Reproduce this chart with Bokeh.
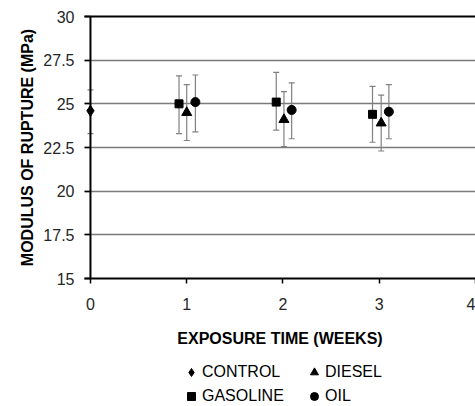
from bokeh.plotting import figure
from bokeh.layouts import column
from bokeh.models import (Range1d, FixedTicker, LinearAxis, Whisker, TeeHead, Span,
                          ColumnDataSource, Legend, LegendItem, NumeralTickFormatter)
from bokeh.embed import file_html
from bokeh.resources import INLINE

# ---- data ----
x_ticks = [0, 1, 2, 3, 4]
y_ticks = [15, 17.5, 20, 22.5, 25, 27.5, 30]

control_x = [0.0]
control_y = [24.6]
control_lo = [23.3]
control_hi = [25.8]

gasoline_x = [0.92, 1.93, 2.93]
gasoline_y = [25.0, 25.1, 24.4]
gasoline_lo = [23.3, 23.5, 22.8]
gasoline_hi = [26.6, 26.8, 26.0]

diesel_x = [1.0, 2.01, 3.02]
diesel_y = [24.5, 24.1, 23.9]
diesel_lo = [22.9, 22.55, 22.3]
diesel_hi = [26.1, 25.7, 25.5]

oil_x = [1.09, 2.09, 3.10]
oil_y = [25.1, 24.65, 24.55]
oil_lo = [23.4, 23.0, 23.0]
oil_hi = [26.65, 26.2, 26.1]

FONT = "Liberation Sans"
GRAY = "#808080"
X0, X1 = 0, 4

p = figure(width=475, height=355, x_range=Range1d(-0.062, 4), y_range=Range1d(15, 30),
           output_backend="svg", toolbar_location=None,
           min_border_left=84, min_border_right=0, min_border_top=16, min_border_bottom=77)
p.outline_line_color = None
p.background_fill_color = "white"
p.border_fill_color = "white"

p.xgrid.visible = False
p.ygrid.ticker = FixedTicker(ticks=y_ticks)
p.ygrid.grid_line_color = "#7a7a7a"
p.ygrid.grid_line_width = 1.5
p.ygrid.bounds = (X0, X1)

# axes
xa = p.xaxis[0]
xa.ticker = FixedTicker(ticks=x_ticks)
xa.axis_label = "EXPOSURE TIME (WEEKS)"
ya = p.yaxis[0]
ya.ticker = FixedTicker(ticks=y_ticks)
ya.formatter = NumeralTickFormatter(format="0.[0]")
ya.axis_label = "MODULUS OF RUPTURE (MPa)"
for ax in (xa, ya):
    ax.axis_line_color = "black"
    ax.axis_line_width = 2
    ax.major_tick_line_color = "black"
    ax.major_tick_line_width = 1.5
    ax.major_tick_in = 0
    ax.minor_tick_line_color = None
    ax.major_label_text_font = FONT
    ax.major_label_text_font_size = "16px"
    ax.major_label_text_color = "#262626"
    ax.axis_label_text_font = FONT
    ax.axis_label_text_font_size = "16px"
    ax.axis_label_text_font_style = "bold"
    ax.axis_label_text_color = "black"
xa.major_tick_out = 5
xa.major_label_standoff = 14
xa.axis_label_standoff = 17
ya.axis_line_color = None
ya.major_tick_out = 0
ya.major_tick_in = 6
ya.major_label_standoff = 10
ya.axis_label_standoff = 4

# vertical axis line drawn at x = 0
p.add_layout(Span(location=X0, dimension="height", line_color="black", line_width=2))

top = LinearAxis(ticker=FixedTicker(ticks=[]), major_tick_out=0, major_tick_in=0,
                 minor_tick_out=0, minor_tick_in=0, major_label_text_font_size="0px",
                 axis_line_color="black", axis_line_width=2)
p.add_layout(top, "above")

def series(xs, ys, lo, hi, marker, size):
    src = ColumnDataSource(dict(x=xs, y=ys, lo=lo, hi=hi))
    w = Whisker(base="x", lower="lo", upper="hi", source=src, level="underlay",
                line_color=GRAY, line_width=1.2,
                upper_head=TeeHead(size=6, line_color=GRAY, line_width=1.2),
                lower_head=TeeHead(size=6, line_color=GRAY, line_width=1.2))
    p.add_layout(w)
    p.scatter("x", "y", source=src, marker=marker, size=size,
              fill_color="black", line_color="black")

series(control_x, control_y, control_lo, control_hi, "diamond", 11)
series(diesel_x, diesel_y, diesel_lo, diesel_hi, "triangle", 10)
series(gasoline_x, gasoline_y, gasoline_lo, gasoline_hi, "square", 8)
series(oil_x, oil_y, oil_lo, oil_hi, "circle", 9)

# ---- legend strip below the chart ----
p2 = figure(width=475, height=51, x_range=Range1d(0, 1), y_range=Range1d(0, 1),
            output_backend="svg", toolbar_location=None,
            x_axis_type=None, y_axis_type=None,
            min_border_left=0, min_border_right=0, min_border_top=0, min_border_bottom=0)
p2.outline_line_color = None
p2.grid.visible = False
p2.background_fill_color = "white"
p2.border_fill_color = "white"

legend_series = [("CONTROL", control_x, control_y, "diamond"),
                 ("DIESEL", diesel_x, diesel_y, "triangle"),
                 ("GASOLINE", gasoline_x, gasoline_y, "square"),
                 ("OIL", oil_x, oil_y, "circle")]
items = []
for name, xs, ys, mk in legend_series:
    r = p2.scatter(x=xs, y=ys, marker=mk, size=8, fill_color="black", line_color="black",
                   visible=False)
    items.append(LegendItem(label=name, renderers=[r]))

legend = Legend(items=items, orientation="horizontal", ncols=2, location=(97, 0),
                padding=0, margin=0, border_line_color=None, background_fill_alpha=0,
                label_text_font=FONT, label_text_font_size="16px", label_text_color="black",
                glyph_width=20, glyph_height=20, label_height=20, label_width=98,
                label_standoff=1, spacing=4, inactive_fill_alpha=0)
p2.add_layout(legend)

layout = column(p, p2, spacing=0)
open("out.html", "w").write(file_html(layout, INLINE))
